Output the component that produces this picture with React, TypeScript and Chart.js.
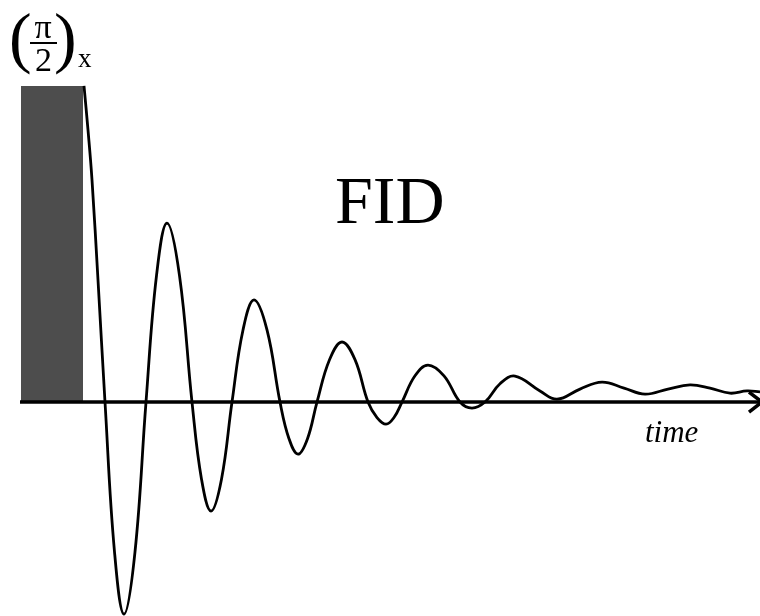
import { useEffect, useRef } from "react";
import { Chart, registerables } from "chart.js";

Chart.register(...registerables);

// Free induction decay after a (pi/2)x pulse: time in arbitrary units,
// signal normalised to the amplitude at the end of the pulse.
const time = [
  0, 0.04, 0.08, 0.14, 0.21,
  0.305, 0.4, 0.51, 0.62,
  0.725, 0.83, 0.955, 1.08,
  1.175, 1.27, 1.375, 1.48,
  1.59, 1.7, 1.83, 1.96,
  2.05, 2.14, 2.235, 2.33,
  2.455, 2.58, 2.71, 2.84,
  2.93, 3.02, 3.1, 3.18,
  3.31, 3.44, 3.6, 3.76,
  3.88, 4.01,
  4.16, 4.31, 4.56,
  4.73, 4.96, 5.18, 5.4,
  5.61, 5.84, 6.06, 6.26,
  6.46, 6.63, 6.76,
];
const signal = [
  1.0, 0.861, 0.703, 0.386, 0,
  -0.474, -0.671, -0.474, 0,
  0.4, 0.566, 0.4, 0,
  -0.244, -0.345, -0.244, 0,
  0.228, 0.323, 0.228, 0,
  -0.116, -0.165, -0.116, 0,
  0.134, 0.19, 0.134, 0,
  -0.049, -0.07, -0.049, 0,
  0.083, 0.117, 0.083, 0,
  -0.019, 0,
  0.058, 0.082, 0.035,
  0.009, 0.041, 0.063, 0.044,
  0.025, 0.041, 0.054, 0.044,
  0.028, 0.035, 0.032,
];

// RF pulse block (start, end) and its height
const pulseTime = [-0.63, -0.01];
const pulseLevel = [1.0, 1.0];

// time axis extent
const axisTime = [-0.64, 6.78];

const SERIF = "'Liberation Serif', 'Times New Roman', serif";

const annotationPlugin = {
  id: "fidAnnotations",
  afterDatasetsDraw(chart: any) {
    const { ctx, scales } = chart;
    const xs = scales.x;
    const ys = scales.y;
    const tipX = xs.getPixelForValue(axisTime[1]);
    const axisY = ys.getPixelForValue(0);

    ctx.save();
    // arrowhead on the time axis
    ctx.strokeStyle = "#000";
    ctx.lineWidth = 3.5;
    ctx.lineJoin = "miter";
    ctx.beginPath();
    ctx.moveTo(tipX - 13, axisY - 10);
    ctx.lineTo(tipX, axisY);
    ctx.lineTo(tipX - 13, axisY + 10);
    ctx.stroke();

    ctx.fillStyle = "#000";
    ctx.textBaseline = "alphabetic";

    ctx.textAlign = "left";
    ctx.font = `68px ${SERIF}`;
    ctx.fillText("FID", 335, 223);

    ctx.font = `italic 31px ${SERIF}`;
    ctx.fillText("time", 645, 442);

    // (pi/2)x pulse label
    ctx.font = `68px ${SERIF}`;
    ctx.fillText("(", 9, 60);
    ctx.fillText(")", 54, 60);
    ctx.textAlign = "center";
    ctx.font = `34px ${SERIF}`;
    ctx.fillText("π", 43, 38);
    ctx.fillText("2", 43.5, 71);
    ctx.fillRect(30, 42, 27, 2);
    ctx.textAlign = "left";
    ctx.font = `27px ${SERIF}`;
    ctx.fillText("x", 78, 67);
    ctx.restore();
  },
};

export default function App() {
  const canvasRef = useRef<HTMLCanvasElement | null>(null);

  useEffect(() => {
    const canvas = canvasRef.current;
    if (!canvas) return;
    const chart = new Chart(canvas, {
      type: "line",
      data: {
        datasets: [
          {
            label: "FID",
            data: time.map((t, i) => ({ x: t, y: signal[i] })),
            borderColor: "#000",
            borderWidth: 2.8,
            pointRadius: 0,
            tension: 0.4,
            fill: false,
            order: 1,
          },
          {
            label: "time axis",
            data: axisTime.map((t) => ({ x: t, y: 0 })),
            borderColor: "#000",
            borderWidth: 3.5,
            pointRadius: 0,
            fill: false,
            order: 2,
          },
          {
            label: "pulse",
            data: pulseTime.map((t, i) => ({ x: t, y: pulseLevel[i] })),
            borderWidth: 0,
            borderColor: "rgba(0,0,0,0)",
            backgroundColor: "#4d4d4d",
            pointRadius: 0,
            fill: "origin",
            order: 3,
          },
        ],
      },
      options: {
        responsive: false,
        maintainAspectRatio: false,
        animation: false,
        devicePixelRatio: 1,
        layout: { padding: 0 },
        plugins: {
          legend: { display: false },
          tooltip: { enabled: false },
          title: { display: false },
        },
        scales: {
          x: { type: "linear", min: -0.84, max: 6.76, display: false },
          y: { type: "linear", min: -0.677, max: 1.272, display: false },
        },
      },
      plugins: [annotationPlugin],
    });
    return () => chart.destroy();
  }, []);

  return (
    <div
      style={{
        position: "fixed",
        left: 0,
        top: 0,
        width: 760,
        height: 616,
        background: "#fff",
      }}
    >
      <canvas ref={canvasRef} width={760} height={616} style={{ display: "block" }} />
    </div>
  );
}
